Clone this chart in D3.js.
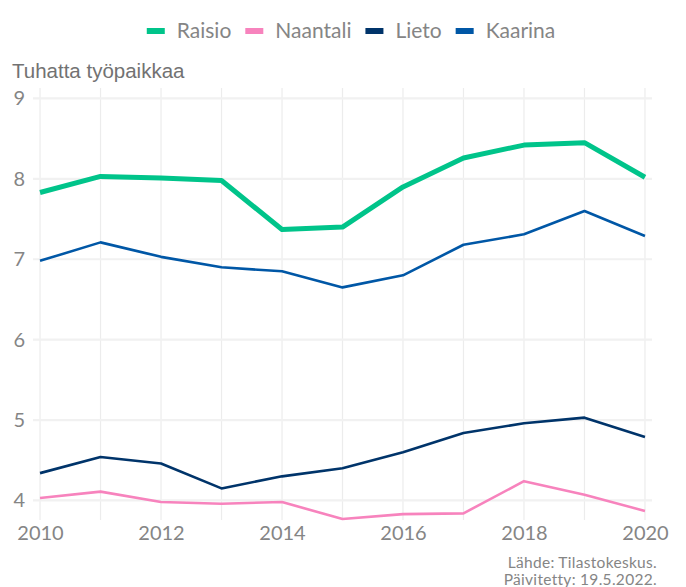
<!DOCTYPE html>
<html>
<head>
<meta charset="utf-8">
<script src="https://cdn.jsdelivr.net/npm/d3@7"></script>
<style>
	body { margin: 0; background: #fff; }
	svg { display: block; }
</style>
</head>
<body>
<div id="chart"></div>
<script>

// years on the x axis
var years = [2010, 2011, 2012, 2013, 2014, 2015, 2016, 2017, 2018, 2019, 2020];

// jobs, thousands
var raisio   = [7.83, 8.03, 8.01, 7.98, 7.37, 7.40, 7.90, 8.26, 8.42, 8.45, 8.02];
var naantali = [4.03, 4.11, 3.98, 3.96, 3.98, 3.77, 3.83, 3.84, 4.24, 4.07, 3.87];
var lieto    = [4.34, 4.54, 4.46, 4.15, 4.30, 4.40, 4.60, 4.84, 4.96, 5.03, 4.79];
var kaarina  = [6.98, 7.21, 7.03, 6.90, 6.85, 6.65, 6.80, 7.18, 7.31, 7.60, 7.29];

var seriesNames = ["Raisio", "Naantali", "Lieto", "Kaarina"];
var yTicks = [4, 5, 6, 7, 8, 9];
var xTicks = [2010, 2012, 2014, 2016, 2018, 2020];

var colors = ["#00c48a", "#f783bd", "#00346a", "#0057a6"];
var widths = [5, 2.6, 2.6, 2.6];

var width = 686, height = 587;
var lightFont = "Lato, 'Noto Sans', sans-serif";
var textGrey = "#858585";

var svg = d3.select("#chart").append("svg")
	.attr("width", width)
	.attr("height", height);

// scales
var x = d3.scaleLinear()
	.domain([2009.884, 2020.116])
	.range([33, 652]);

var y = d3.scaleLinear()
	.domain([3.757, 9.13])
	.range([520, 88]);

// grid
var grid = svg.append("g");
grid.selectAll("line.v")
	.data(years)
	.enter().append("line")
	.attr("class", "v")
	.attr("x1", function(d) { return x(d); })
	.attr("x2", function(d) { return x(d); })
	.attr("y1", y.range()[1])
	.attr("y2", y.range()[0])
	.attr("stroke", "#ececec")
	.attr("stroke-width", 1.2);

grid.selectAll("line.h")
	.data(yTicks)
	.enter().append("line")
	.attr("class", "h")
	.attr("x1", x.range()[0])
	.attr("x2", x.range()[1])
	.attr("y1", function(d) { return y(d); })
	.attr("y2", function(d) { return y(d); })
	.attr("stroke", "#f1f1f1")
	.attr("stroke-width", 2.2);

// axes, text only
var yAxis = svg.append("g")
	.attr("transform", "translate(25,0)")
	.call(d3.axisLeft(y).tickValues(yTicks).tickFormat(d3.format("d")).tickSize(0).tickPadding(0));
yAxis.select(".domain").remove();
yAxis.selectAll("text")
	.attr("font-family", lightFont)
	.attr("font-size", "20px")
	.attr("fill", textGrey);

var xAxis = svg.append("g")
	.attr("transform", "translate(0,526)")
	.call(d3.axisBottom(x).tickValues(xTicks).tickFormat(d3.format("d")).tickSize(0).tickPadding(0));
xAxis.select(".domain").remove();
xAxis.selectAll("text")
	.attr("font-family", lightFont)
	.attr("font-size", "20px")
	.attr("fill", textGrey);

// lines
var allSeries = [raisio, naantali, lieto, kaarina];
var line = d3.line()
	.x(function(d, i) { return x(years[i]); })
	.y(function(d) { return y(d); });

svg.append("g").selectAll("path")
	.data(allSeries)
	.enter().append("path")
	.attr("d", function(d) { return line(d); })
	.attr("fill", "none")
	.attr("stroke", function(d, i) { return colors[i]; })
	.attr("stroke-width", function(d, i) { return widths[i]; })
	.attr("stroke-linejoin", "round");

// y title
svg.append("text")
	.attr("x", 12)
	.attr("y", 78)
	.attr("font-family", "'Liberation Sans', Arial, sans-serif")
	.attr("font-size", "20.5px")
	.attr("fill", "#727272")
	.text("Tuhatta työpaikkaa");

// legend
var legend = svg.append("g");
var lx = 0;
seriesNames.forEach(function(name, i) {
	legend.append("rect")
		.attr("x", lx)
		.attr("y", -3)
		.attr("width", 18)
		.attr("height", 6)
		.attr("fill", colors[i]);
	var t = legend.append("text")
		.attr("x", lx + 30)
		.attr("y", 0)
		.attr("dy", "0.35em")
		.attr("font-family", lightFont)
		.attr("font-size", "21px")
		.attr("fill", textGrey)
		.text(name);
	lx += 30 + t.node().getComputedTextLength() + 14;
});
lx -= 14;
legend.attr("transform", "translate(" + (351 - lx / 2) + ",31)");

// caption
var caption = ["Lähde: Tilastokeskus.", "Päivitetty: 19.5.2022."];
svg.append("g").selectAll("text")
	.data(caption)
	.enter().append("text")
	.attr("x", 657)
	.attr("y", function(d, i) { return 568 + i * 17; })
	.attr("text-anchor", "end")
	.attr("font-family", lightFont)
	.attr("font-size", "15.5px")
	.attr("letter-spacing", "0.3px")
	.attr("fill", textGrey)
	.text(function(d) { return d; });

</script>
</body>
</html>
